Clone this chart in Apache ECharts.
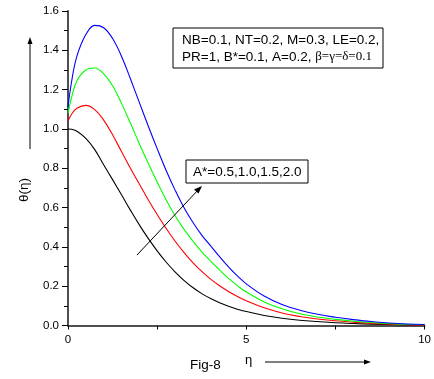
<!DOCTYPE html>
<html>
<head>
<meta charset="utf-8">
<script src="https://cdn.jsdelivr.net/npm/echarts@6/dist/echarts.min.js"></script>
</head>
<body style="margin:0;width:434px;height:379px;background:#fff">
<div id="container" style="width:434px;height:379px"></div>
<script>
var eta = [0, 0.1, 0.25, 0.5, 0.75, 1.0, 1.25, 1.5, 1.75, 2.0, 2.25, 2.5, 2.75, 3.0, 3.25, 3.5, 3.75, 4.0, 4.25, 4.5, 4.75, 5.0, 5.5, 6.0, 6.5, 7.0, 7.5, 8.0, 8.5, 9.0, 9.5, 10];
// A* = 0.5, 1.0, 1.5, 2.0
var theta05 = [1.0, 0.998, 0.988, 0.952, 0.895, 0.818, 0.742, 0.665, 0.587, 0.512, 0.443, 0.38, 0.323, 0.273, 0.23, 0.193, 0.162, 0.137, 0.116, 0.098, 0.083, 0.071, 0.051, 0.037, 0.027, 0.02, 0.014, 0.01, 0.007, 0.005, 0.003, 0.002];
var theta10 = [1.04, 1.075, 1.105, 1.12, 1.098, 1.045, 0.97, 0.885, 0.80, 0.72, 0.64, 0.565, 0.495, 0.43, 0.372, 0.32, 0.275, 0.236, 0.202, 0.173, 0.148, 0.126, 0.09, 0.064, 0.046, 0.033, 0.024, 0.017, 0.011, 0.007, 0.004, 0.003];
var theta15 = [1.08, 1.16, 1.245, 1.30, 1.31, 1.28, 1.22, 1.13, 1.03, 0.925, 0.825, 0.73, 0.64, 0.56, 0.49, 0.43, 0.375, 0.328, 0.283, 0.24, 0.203, 0.17, 0.12, 0.085, 0.06, 0.043, 0.031, 0.022, 0.015, 0.01, 0.006, 0.004];
var theta20 = [1.11, 1.24, 1.37, 1.48, 1.527, 1.515, 1.46, 1.37, 1.255, 1.135, 1.015, 0.9, 0.79, 0.69, 0.6, 0.525, 0.46, 0.405, 0.35, 0.298, 0.252, 0.212, 0.15, 0.107, 0.078, 0.057, 0.042, 0.03, 0.02, 0.013, 0.008, 0.005];
var colors = ['#000000', '#ff0000', '#00ff00', '#0000ff'];
var xTickLabels = ['0', '5', '10'];

function pairs(ys) {
  return eta.map(function (x, i) { return [x, ys[i]]; });
}

var dom = document.getElementById('container');
var myChart = echarts.init(dom);
var font = '"Liberation Sans", Arial, sans-serif';

function makeSeries(ys, c) {
  return {
    type: 'line',
    data: pairs(ys),
    smooth: 0.4,
    showSymbol: false,
    symbol: 'none',
    lineStyle: { color: c, width: 1.1 },
    animation: false
  };
}

option = {
  animation: false,
  grid: { left: 68, top: 11, width: 360, height: 314.5 },
  xAxis: [{
    type: 'value', min: 0, max: 10, interval: 2.5,
    axisLine: { lineStyle: { color: '#000', width: 1.5 } },
    axisTick: { inside: false, length: 4, lineStyle: { color: '#000' } },
    axisLabel: {
      margin: 8, color: '#000', fontSize: 11.5, fontFamily: font,
      formatter: function (v) { return xTickLabels.indexOf(String(v)) >= 0 ? String(v) : ''; }
    },
    splitLine: { show: false }
  }, {
    type: 'value', min: 0, max: 10, position: 'top',
    axisLine: { show: true, lineStyle: { color: '#555', width: 1.5 } },
    axisTick: { show: false }, axisLabel: { show: false }, splitLine: { show: false }
  }],
  yAxis: [{
    type: 'value', min: 0, max: 1.6, interval: 0.2,
    axisLine: { show: true, lineStyle: { color: '#000', width: 1.5 } },
    axisTick: { inside: false, length: 6, lineStyle: { color: '#000' } },
    minorTick: { show: true, splitNumber: 2, length: 4, lineStyle: { color: '#000' } },
    axisLabel: {
      margin: 9, color: '#000', fontSize: 11.5, fontFamily: font,
      formatter: function (v) { return v.toFixed(1); }
    },
    splitLine: { show: false }
  }, {
    type: 'value', min: 0, max: 1.6, position: 'right',
    axisLine: { show: true, lineStyle: { color: '#555', width: 1.5 } },
    axisTick: { show: false }, axisLabel: { show: false }, splitLine: { show: false }
  }],
  series: [
    makeSeries(theta05, colors[0]),
    makeSeries(theta10, colors[1]),
    makeSeries(theta15, colors[2]),
    makeSeries(theta20, colors[3])
  ],
  graphic: [
    // parameter box
    { type: 'rect', shape: { x: 173, y: 28, width: 210, height: 40 },
      style: { fill: '#fff', stroke: '#000', lineWidth: 1 }, z: 10 },
    { type: 'text', x: 182, y: 33, z: 11,
      style: { text: 'NB=0.1, NT=0.2, M=0.3, LE=0.2,', font: '13.5px ' + font, fill: '#000' } },
    { type: 'text', x: 182, y: 50, z: 11,
      style: {
        text: '{a|PR=1, B*=0.1, A=0.2, }{b|β=γ=δ=0.1}',
        rich: {
          a: { fontSize: 13.5, fontFamily: font, fill: '#000' },
          b: { fontSize: 13, fontFamily: '"Liberation Serif", "DejaVu Serif", serif', fill: '#000' }
        }
      } },
    // A* box
    { type: 'rect', shape: { x: 186, y: 160, width: 122, height: 23 },
      style: { fill: '#fff', stroke: '#000', lineWidth: 1 }, z: 10 },
    { type: 'text', x: 193, y: 165, z: 11,
      style: { text: 'A*=0.5,1.0,1.5,2.0', font: '13.5px ' + font, fill: '#000' } },
    // A* arrow
    { type: 'line', shape: { x1: 137, y1: 255, x2: 199, y2: 189 },
      style: { stroke: '#000', lineWidth: 1 }, z: 10 },
    { type: 'polygon', shape: { points: [[202, 186], [194, 189.5], [198.5, 193.5]] },
      style: { fill: '#000' }, z: 10 },
    // y title and arrow
    { type: 'text', x: 24, y: 190, rotation: Math.PI / 2, z: 11,
      style: { text: 'θ(η)', font: '13.5px ' + font, fill: '#000', align: 'center', verticalAlign: 'middle' } },
    { type: 'line', shape: { x1: 30, y1: 149, x2: 30, y2: 42 },
      style: { stroke: '#000', lineWidth: 1 } },
    { type: 'polygon', shape: { points: [[30, 37], [27.5, 44], [32.5, 44]] },
      style: { fill: '#000' } },
    // x title and arrow
    { type: 'text', x: 190, y: 358, z: 11,
      style: { text: 'Fig-8', font: '13.5px ' + font, fill: '#000' } },
    { type: 'text', x: 245, y: 354, z: 11,
      style: { text: 'η', font: '13px ' + font, fill: '#000' } },
    { type: 'line', shape: { x1: 265, y1: 362, x2: 365, y2: 362 },
      style: { stroke: '#000', lineWidth: 1 } },
    { type: 'polygon', shape: { points: [[371, 362], [364, 359.5], [364, 364.5]] },
      style: { fill: '#000' } }
  ]
};
myChart.setOption(option, true);
</script>
</body>
</html>
